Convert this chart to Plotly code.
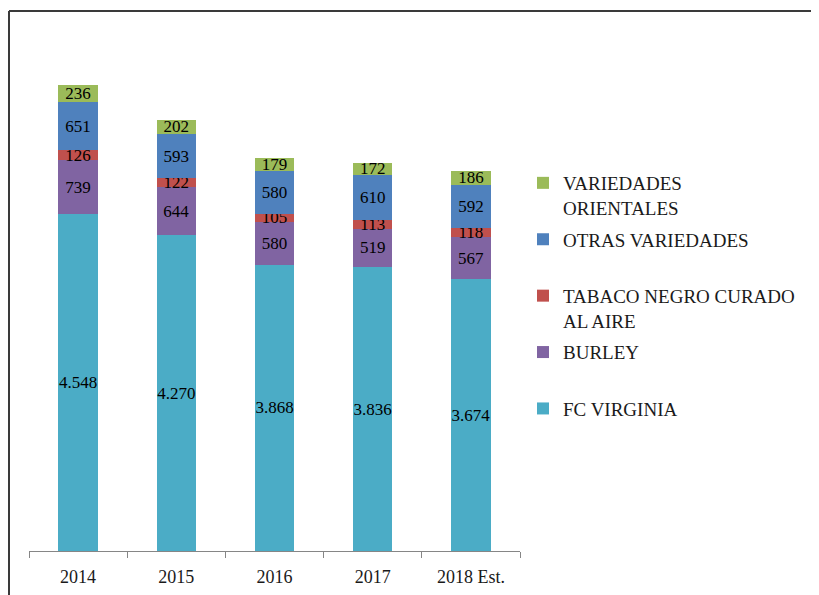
import plotly.graph_objects as go

years = ["2014", "2015", "2016", "2017", "2018 Est."]
fc_virginia = [4548, 4270, 3868, 3836, 3674]
burley = [739, 644, 580, 519, 567]
tabaco_negro = [126, 122, 105, 113, 118]
otras_variedades = [651, 593, 580, 610, 592]
variedades_orientales = [236, 202, 179, 172, 186]

series = [
    ("FC VIRGINIA<br> ", fc_virginia, "#4BACC6"),
    ("BURLEY<br> ", burley, "#8064A2"),
    ("TABACO NEGRO CURADO<br>AL AIRE", tabaco_negro, "#C0504D"),
    ("OTRAS VARIEDADES<br> ", otras_variedades, "#4F81BD"),
    ("VARIEDADES<br>ORIENTALES", variedades_orientales, "#9BBB59"),
]

# page body has an 8px margin: figure drawn at offset (8, 8)
W, H = 811, 587
OFF = 8
font = "Liberation Serif"

fig = go.Figure()
for i, (name, vals, col) in enumerate(series):
    fig.add_trace(go.Bar(
        x=years, y=vals, name=name, legendgroup=f"g{i}",
        legendrank=len(series) - i,
        marker=dict(color=col, line=dict(width=0)),
        texttemplate="%{y:,.0f}", textposition="inside",
        insidetextanchor="middle", textangle=0,
        textfont=dict(family=font, size=17, color="#000000"),
        hoverinfo="x+y",
    ))

fig.update_layout(
    width=W, height=H,
    barmode="stack", bargap=0.6,
    separators=",.",
    paper_bgcolor="white", plot_bgcolor="white",
    margin=dict(l=0, r=0, t=0, b=0),
    uniformtext=dict(minsize=17, mode="show"),
    font=dict(family=font, color="#1a1a1a"),
    showlegend=True,
    legend=dict(
        x=(531 - 2 * OFF) / W, xanchor="left", y=(H - 156) / H, yanchor="top",
        traceorder="grouped", tracegroupgap=4, valign="top",
        font=dict(family=font, size=19, color="#1a1a1a"),
        bgcolor="rgba(0,0,0,0)",
    ),
    xaxis=dict(
        domain=[(29 - OFF) / W, (520 - OFF) / W], type="category",
        showline=True, linecolor="#868686", linewidth=1,
        ticks="outside", tickson="boundaries", ticklen=6, tickcolor="#868686",
        tickfont=dict(family=font, size=18, color="#1a1a1a"),
        ticklabelstandoff=9,
        showgrid=False, automargin=False, zeroline=False,
    ),
    yaxis=dict(
        domain=[(H - (551 - OFF)) / H, (H - (33 - OFF)) / H], range=[0, 7000],
        visible=False, showgrid=False, automargin=False,
    ),
    shapes=[
        dict(type="line", xref="paper", yref="paper",
             x0=1 / W, x1=1, y0=(H - 3) / H, y1=(H - 3) / H,
             line=dict(color="#3a3a3a", width=2)),
        dict(type="line", xref="paper", yref="paper",
             x0=1 / W, x1=1 / W, y0=0, y1=(H - 3) / H,
             line=dict(color="#3a3a3a", width=2)),
    ],
)

fig.write_html("out.html", config={"displayModeBar": False})
